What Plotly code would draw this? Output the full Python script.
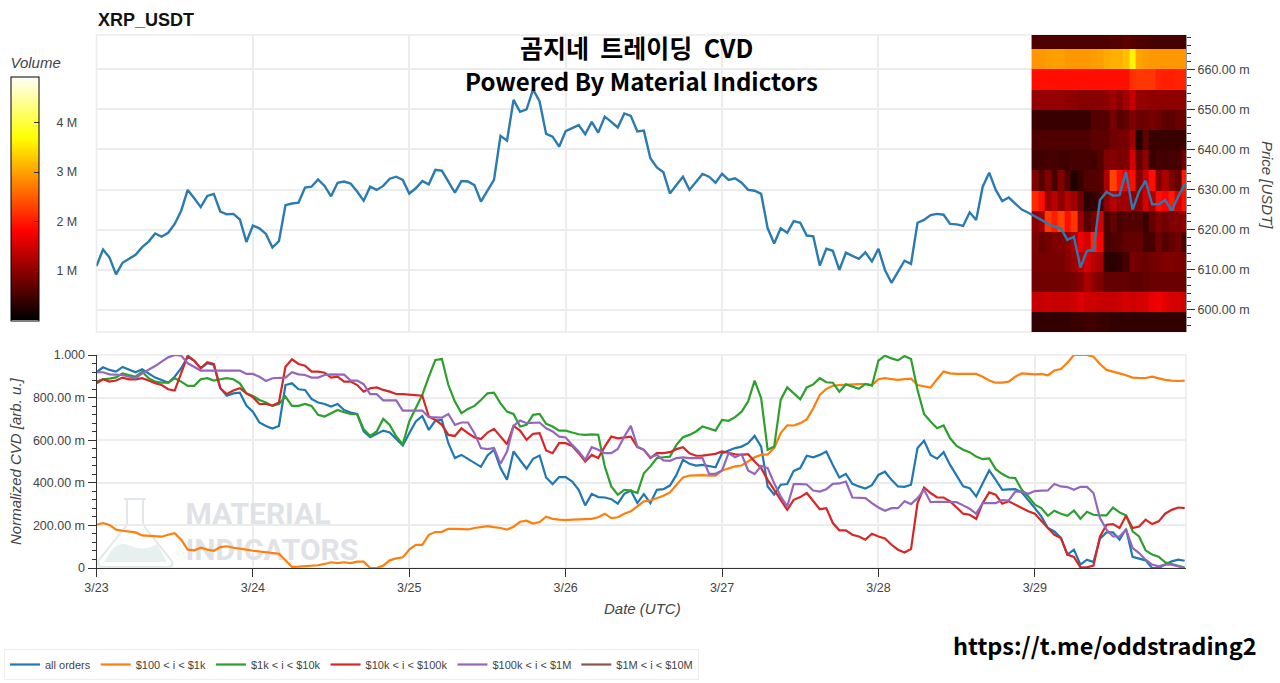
import pandas as pd
import plotly.graph_objects as go

W, H = 1280, 683

# hourly samples
hours = pd.date_range("2023-03-23", periods=168, freq="h")
tick_dates = ["2023-03-23", "2023-03-24", "2023-03-25", "2023-03-26", "2023-03-27", "2023-03-28", "2023-03-29"]
tick_labels = ["3/23", "3/24", "3/25", "3/26", "3/27", "3/28", "3/29"]

# price in milli USDT
price = [
    610.9, 615.0, 613.0, 608.8, 611.7, 612.8, 613.7, 615.6, 617.0, 619.0, 618.2, 619.2, 621.4, 624.7, 629.9, 627.8,
    625.6, 628.4, 628.9, 624.5, 623.8, 623.9, 622.5, 616.9, 621.0, 620.3, 618.9, 615.5, 617.1, 626.1, 626.5, 626.7,
    630.5, 630.7, 632.5, 630.9, 628.3, 631.7, 632.0, 631.5, 629.5, 627.2, 630.7, 629.9, 630.9, 632.7, 633.2, 632.4,
    629.0, 630.3,
    632.1, 631.3, 634.9, 634.7, 632.0, 629.2, 632.1, 632.0, 631.1, 627.0, 629.7, 632.4, 643.4, 642.2, 652.4, 649.4,
    650.0, 655.0, 652.0, 643.9, 643.2, 640.7, 644.6, 645.3, 646.1, 643.8, 646.9, 644.2, 648.2, 646.9, 645.5, 649.0,
    648.4, 644.5, 644.7, 637.8, 635.5, 634.3, 629.0, 631.1, 633.2, 629.9, 632.0, 633.9, 633.2, 631.7, 633.9, 632.4,
    632.8, 631.7, 629.9, 629.7, 628.9, 620.3, 616.5, 620.3, 619.2, 622.1, 621.7, 618.5, 618.3, 611.0, 615.2, 614.7,
    609.9, 614.2, 613.4, 612.7, 614.3, 612.0, 615.2, 609.9, 606.7, 609.3, 612.2, 611.4, 621.7, 622.4, 623.6, 623.9,
    623.7, 621.4, 621.3, 620.9, 624.3, 622.4, 630.7, 634.2, 629.9, 627.1, 628.0, 626.5, 625.0, 624.2, 623.2, 622.4,
    621.5, 620.7, 620.3, 617.4, 618.2, 610.5, 614.7, 614.9, 627.4, 629.4, 628.5, 628.6, 634.4, 624.9, 629.5, 632.2,
    626.3, 626.3, 627.4, 624.7, 628.2, 631.4,
]

all_orders = [
    .919, .942, .930, .922, .944, .930, .919, .933, .914, .894, .883, .870, .898, .938, .992, .973,
    .938, .961, .953, .844, .809, .820, .823, .763, .734, .683, .667, .655, .667, .859, .867, .839,
    .836, .794, .777, .770, .758, .770, .742, .730, .723, .641, .614, .628, .645, .636, .605, .575,
    .633, .688,
    .714, .648, .692, .695, .586, .516, .531, .511, .492, .475, .528, .555, .469, .414, .547, .508,
    .466, .513, .528, .425, .394, .427, .427, .406, .367, .294, .348, .333, .331, .323, .302, .348,
    .364, .305, .347, .305, .367, .370, .387, .437, .508, .489, .481, .484, .480, .473, .539, .552,
    .563, .570, .586, .620, .570, .383, .344, .391, .394, .456, .469, .527, .520, .531,
    .547, .484, .425, .442, .395, .383, .373, .389, .437, .452, .414, .383, .381, .391, .563, .597,
    .531, .513, .544, .484, .430, .383, .375, .336, .398, .458, .414, .367, .369, .370, .355, .320,
    .281, .242, .188, .172, .141, .063, .086, .016, .039, .028, .138, .167, .167, .133, .183, .052,
    .044, .036, 0, 0, .016, .031, .039, .034,
]
orders_100_1k = [
    .203, .211, .202, .180, .175, .170, .167, .153, .152, .148, .147, .156, .163, .133, .086, .083,
    .095, .086, .081, .098, .102, .095, .089, .086, .081, .078, .075, .070, .067, .036, .005, .006,
    .008, .011, .013, .019, .027, .023, .027, .023, .030, .030, 0, 0, .011, .036, .045, .050,
    .086, .109,
    .109, .156, .169, .170, .184, .184, .183, .181, .188, .192, .197, .192, .188, .180, .194, .217,
    .222, .209, .216, .241, .231, .227, .225, .227, .228, .230, .231, .238, .255, .234, .238, .255,
    .266, .289, .313, .317, .328, .339, .355, .391, .425, .434, .436, .436, .434, .434, .458, .469,
    .477, .481, .500, .520, .531, .533, .563, .633, .670, .669, .680, .698, .750, .813,
    .841, .855, .859, .861, .863, .863, .863, .859, .886, .891, .887, .883, .887, .889, .859, .852,
    .847, .886, .922, .914, .911, .912, .911, .911, .898, .880, .870, .870, .875, .898, .914, .912,
    .909, .911, .905, .927, .934, .964, 1.0, 1.0, 1.0, .992, .958, .930, .923, .914, .905, .894,
    .892, .892, .898, .891, .883, .880, .878, .880,
]
orders_1k_10k = [
    .875, .886, .889, .895, .914, .906, .898, .922, .891, .875, .870, .870, .891, .875, .855, .855,
    .886, .891, .880, .886, .891, .886, .867, .820, .808, .789, .777, .761, .770, .805, .761, .761,
    .770, .761, .719, .711, .727, .742, .731, .723, .723, .652, .620, .641, .700, .672, .617, .581,
    .688, .750,
    .813, .898, .977, .981, .859, .781, .727, .747, .761, .789, .820, .823, .773, .734, .723, .664,
    .672, .719, .723, .677, .664, .645, .645, .636, .628, .625, .627, .625, .477, .383, .344, .367,
    .364, .352, .445, .477, .516, .520, .523, .578, .614, .625, .641, .664, .656, .645, .695, .691,
    .708, .734, .781, .880, .797, .555, .570, .789, .848, .820, .792, .848, .862, .891,
    .872, .870, .828, .862, .852, .841, .864, .856, .973, .997, .984, .975, .995, .981, .836, .723,
    .688, .656, .669, .609, .573, .555, .544, .523, .511, .514, .464, .441, .425, .422, .367, .336,
    .297, .281, .245, .269, .255, .245, .270, .231, .264, .250, .247, .247, .284, .261, .247, .172,
    .148, .083, .063, .053, .027, .019, .011, .002,
]
orders_10k_100k = [
    .867, .886, .875, .880, .894, .886, .886, .891, .880, .867, .859, .839, .833, .914, .997, .973,
    .938, .966, .958, .844, .817, .833, .844, .820, .802, .770, .770, .763, .777, .945, .980, .958,
    .950, .922, .922, .917, .894, .898, .875, .875, .859, .828, .844, .848, .836, .828, .817, .816,
    .813, .811,
    .809, .711, .695, .672, .625, .620, .656, .633, .613, .605, .636, .653, .617, .581, .667, .645,
    .602, .630, .633, .552, .539, .586, .586, .573, .539, .500, .531, .516, .570, .617, .609, .613,
    .617, .567, .555, .516, .539, .539, .544, .558, .567, .539, .527, .528, .531, .536, .547, .539,
    .534, .531, .534, .500, .469, .414, .367, .320, .273, .320, .333, .352, .313, .276,
    .281, .211, .177, .177, .156, .148, .133, .161, .148, .139, .109, .086, .073, .089, .305, .378,
    .352, .331, .331, .313, .284, .255, .250, .231, .305, .355, .344, .302, .313, .297, .281, .266,
    .255, .219, .188, .156, .141, .063, .052, .003, .003, .011, .148, .203, .206, .188, .245, .188,
    .195, .227, .206, .219, .255, .273, .284, .281,
]
orders_100k_1m = [
    .919, .919, .909, .906, .906, .898, .891, .914, .930, .948, .969, .989, 1.0, .997, .961, .942,
    .927, .927, .927, .927, .927, .927, .927, .911, .911, .898, .878, .891, .891, .894, .919, .909,
    .906, .894, .894, .906, .909, .908, .908, .880, .880, .863, .816, .816, .787, .787, .787, .739,
    .739, .738,
    .739, .708, .706, .706, .723, .672, .683, .683, .633, .563, .558, .563, .489, .547, .667, .692,
    .680, .683, .683, .656, .641, .617, .613, .578, .547, .508, .567, .555, .539, .539, .559, .617,
    .667, .570, .555, .520, .531, .505, .503, .516, .519, .516, .516, .516, .442, .442, .458, .539,
    .520, .534, .458, .441, .480, .469, .398, .336, .289, .394, .394, .392, .364, .359,
    .370, .395, .397, .406, .331, .331, .328, .305, .284, .269, .281, .281, .313, .300, .328, .367,
    .309, .311, .311, .309, .309, .294, .278, .255, .305, .305, .305, .319, .317, .359, .359, .348,
    .361, .363, .364, .394, .383, .380, .367, .381, .381, .352, .234, .180, .148, .148, .180, .094,
    .070, .039, .016, .008, .016, .016, .008, 0,
]
# this one only shows in the legend, the line sits on the axis at the very end
orders_1m_10m = [None] * 167 + [0]

series_names = ["all orders", "$100 < i < $1k", "$1k < i < $10k", "$10k < i < $100k", "$100k < i < $1M", "$1M < i < $10M"]
series_values = [all_orders, orders_100_1k, orders_1k_10k, orders_10k_100k, orders_100k_1m, orders_1m_10m]
series_colors = ["#1f77b4", "#ff7f0e", "#2ca02c", "#d62728", "#9467bd", "#8c564b"]

# order book volume (millions), one column per hour for the last day
price_edges = [594.4, 599.5, 604.5, 609.5, 614.5, 619.5, 624.6, 629.7, 634.8, 639.9, 644.9, 649.9, 654.9, 660.0, 665.1, 668.6]
volume = [
    [.35, .35, .35, .35, .35, .35, .4, .4, .45, .45, .4, .4, .35, .35, .35, .35, .35, .35, .35, .35, .35, .35, .35, .35],
    [1.4, 1.4, 1.45, 1.4, 1.4, 1.4, 1.45, 1.55, 1.45, 1.45, 1.4, 1.4, 1.4, 1.45, 1.5, 1.45, 1.5, 1.5, 1.65, 1.7, 1.6, 1.5, 1.5, 1.45],
    [.8, .8, .8, .8, .8, .8, .85, .95, 1.2, 1.0, .9, .7, .7, .7, .7, .65, .65, .7, .75, .75, .75, .75, .75, .75],
    [.85, .85, .85, .85, .85, .95, 1.1, 1.3, 1.5, 1.3, 1.2, .3, .3, .35, .5, .85, .8, .75, .8, .85, .9, .9, .85, .85],
    [.9, .7, .8, .9, .9, 1.0, 1.2, 1.7, 1.5, 2.1, 1.8, .5, .55, .6, .7, .7, .7, .5, .5, .8, .6, .7, .8, .5],
    [1.0, 1.1, 2.2, 2.0, 2.3, 1.9, 2.2, 1.1, .6, .8, 1.5, .5, .7, .5, .6, .6, .6, .4, .7, .9, .8, .9, .9, 1.0],
    [2.1, 1.9, 1.1, 1.3, 1.0, 1.3, 1.1, .8, .3, .35, .5, 1.0, 1.3, 1.1, 1.1, 1.0, 1.0, 1.5, 1.2, 1.9, 1.8, 2.0, 1.5, 1.9],
    [.9, .6, .9, .5, .9, .55, .25, .4, .6, .6, .6, 1.2, 2.3, 1.9, 1.7, 1.9, .9, 1.4, 1.9, .9, 1.2, .9, .7, 2.0],
    [.45, .45, .5, .5, .45, .45, .5, .5, .5, .45, .6, .9, .95, .85, .9, 1.5, .7, 1.05, .4, .5, .45, .5, .5, .8],
    [.55, .55, .55, .55, .55, .55, .55, .55, .55, .65, .65, .65, .8, .85, .85, 1.1, .25, .7, .4, .4, .4, .4, .4, .4],
    [.4, .4, .4, .4, .4, .4, .4, .4, .4, .6, .6, .6, .85, .6, .7, .9, .75, .75, .85, .75, .65, .65, .75, .75],
    [1.05, 1.05, 1.05, 1.05, 1.05, 1.0, 1.0, .95, .95, .95, .95, 1.0, 1.1, .95, 1.15, 1.4, 1.05, 1.05, 1.0, 1.0, 1.0, 1.0, 1.0, 1.0],
    [1.9, 1.9, 1.9, 1.9, 1.9, 1.9, 1.9, 1.9, 1.9, 1.9, 1.9, 1.9, 1.9, 1.9, 1.9, 2.15, 2.2, 2.2, 2.2, 2.05, 2.02, 2.02, 2.05, 2.05],
    [2.9, 2.9, 2.95, 2.98, 2.98, 2.92, 2.92, 2.92, 2.92, 2.95, 2.98, 3.05, 3.1, 3.1, 3.2, 3.6, 3.0, 2.95, 2.92, 2.92, 2.92, 2.92, 2.92, 2.92],
    [.55, .55, .55, .55, .55, .55, .55, .55, .55, .55, .55, .55, .6, .6, .65, .6, .55, .55, .5, .5, .5, .5, .5, .5],
]

hot = [[0, "rgb(0,0,0)"], [.365, "rgb(255,0,0)"], [.746, "rgb(255,255,0)"], [1, "rgb(255,255,255)"]]

GREY = "#444444"
GRID = "#ececec"
SANS = "Liberation Sans"
CJK = "Noto Sans CJK KR"
NB = "\u00a0"


# pixel position on the page -> paper coords
def px(x):
    return x / W


def py(y):
    return 1 - y / H


fig = go.Figure()

# watermark goes first so the lines stay on top of it
fig.add_trace(go.Scatter(
    x=[pd.Timestamp("2023-03-23 13:40"), pd.Timestamp("2023-03-23 13:40")], y=[.24, .072],
    mode="text", text=["MATERIAL", "INDICATORS"], textposition="middle right",
    textfont=dict(family="Roboto", size=30, color="#dfe2e6", weight="bold"),
    showlegend=False, hoverinfo="skip",
))

for name, vals, color in zip(series_names, series_values, series_colors):
    fig.add_trace(go.Scatter(x=hours, y=vals, mode="lines", name=name, line=dict(color=color, width=2.2)))

fig.add_trace(go.Heatmap(
    x=hours[144:], y=price_edges, z=volume, xaxis="x2", yaxis="y2",
    colorscale=hot, zmin=0, zmax=4.93, showlegend=False,
    colorbar=dict(
        x=px(11), xanchor="left", xpad=0, y=py(320.5), yanchor="bottom", ypad=0,
        len=266 / H, thickness=28, outlinecolor="black", outlinewidth=1,
        tickmode="array", tickvals=[1, 2, 3, 4],
        ticktext=[NB * 4 + "1 M", NB * 4 + "2 M", NB * 4 + "3 M", NB * 4 + "4 M"],
        ticks="inside", ticklen=5, tickcolor="#333333", tickfont=dict(family=SANS, size=12.5, color=GREY),
        title=dict(text="Volume", side="top", font=dict(family=SANS, size=15, color=GREY, style="italic")),
    ),
))
fig.add_trace(go.Scatter(x=hours, y=price, xaxis="x2", yaxis="y2", mode="lines",
                         line=dict(color="#2b7bb0", width=2.4), showlegend=False))

x_range = ["2023-03-23 00:00", "2023-03-29 23:12"]

fig.update_layout(
    width=W, height=H, margin=dict(l=0, r=0, t=0, b=0, autoexpand=False),
    paper_bgcolor="white", plot_bgcolor="white",
    font=dict(family=SANS, size=12.5, color=GREY),
    xaxis=dict(
        domain=[px(96.5), px(1186)], anchor="y", range=x_range,
        tickmode="array", tickvals=tick_dates, ticktext=tick_labels,
        ticks="outside", ticklen=8, tickcolor="#333333", showline=True, linecolor="#333333",
        gridcolor=GRID, gridwidth=1.5, zeroline=False,
    ),
    yaxis=dict(
        domain=[py(568), py(355)], anchor="x", range=[0, 1],
        tickmode="array", tickvals=[0, .2, .4, .6, .8, 1],
        ticktext=["0", "200.00 m", "400.00 m", "600.00 m", "800.00 m", "1.000"],
        ticks="outside", ticklen=8, tickcolor="#333333", showline=True, linecolor="#333333",
        minor=dict(tickmode="linear", tick0=0, dtick=.04, ticks="outside", ticklen=4, tickcolor="#333333", showgrid=False),
        gridcolor=GRID, gridwidth=1.5, zeroline=False,
    ),
    xaxis2=dict(
        domain=[px(96.5), px(1186)], anchor="y2", range=x_range, matches="x",
        tickmode="array", tickvals=tick_dates, showticklabels=False, ticks="",
        gridcolor=GRID, gridwidth=1.5, zeroline=False,
    ),
    yaxis2=dict(
        domain=[py(332), py(35)], anchor="x2", side="right", range=[594.4, 668.6],
        tick0=600, dtick=10, tickformat=".2f", ticksuffix=" m",
        ticks="outside", ticklen=8, tickcolor="#333333", showline=True, linecolor="#999999",
        minor=dict(tick0=600, dtick=2, ticks="outside", ticklen=4, tickcolor="#333333", showgrid=False),
        gridcolor=GRID, gridwidth=1.5, zeroline=False,
    ),
    legend=dict(
        orientation="h", x=px(4), xanchor="left", y=py(649), yanchor="top",
        bgcolor="white", bordercolor="#eeeeee", borderwidth=1,
        font=dict(family=SANS, size=11, color=GREY), itemwidth=30, tracegroupgap=0,
    ),
    shapes=[
        # light frames around both panels
        dict(type="rect", xref="paper", yref="paper", x0=px(96.5), x1=px(1186), y0=py(332), y1=py(35),
             line=dict(color=GRID, width=1.5), layer="below"),
        dict(type="rect", xref="paper", yref="paper", x0=px(96.5), x1=px(1186), y0=py(568), y1=py(355),
             line=dict(color=GRID, width=1.5), layer="below"),
        # flask of the watermark
        dict(type="path", xref="paper", yref="paper", layer="below", line=dict(color="#e4e7e9", width=2),
             path=f"M {px(124)},{py(499)} L {px(146)},{py(499)} M {px(127)},{py(499)} L {px(127)},{py(525)} "
                  f"L {px(99)},{py(560)} Q {px(96)},{py(567)} {px(104)},{py(567)} L {px(167)},{py(567)} "
                  f"Q {px(175)},{py(567)} {px(171)},{py(560)} L {px(143)},{py(525)} L {px(143)},{py(499)}"),
        dict(type="path", xref="paper", yref="paper", layer="below", fillcolor="#e6f0ef", line=dict(width=0),
             path=f"M {px(111)},{py(551)} Q {px(119)},{py(540)} {px(131)},{py(546)} Q {px(143)},{py(552)} "
                  f"{px(157)},{py(544)} L {px(167)},{py(562)} L {px(104)},{py(562)} Z"),
    ],
)

labels = [
    dict(text="<b>XRP_USDT</b>", x=96, y=20, xanchor="left", font=dict(family=SANS, size=18, color="#111111")),
    dict(text=f"<b>곰지네{NB} 트레이딩{NB} CVD</b>", x=636, y=47, font=dict(family=CJK, size=25, color="black")),
    dict(text="<b>Powered By Material Indictors</b>", x=641, y=80, font=dict(family=CJK, size=24, color="black")),
    dict(text="<b>https://t.me/oddstrading2</b>", x=1105, y=645, font=dict(family=CJK, size=23.5, color="black")),
    dict(text="Date (UTC)", x=642, y=608, font=dict(family=SANS, size=15, color=GREY, style="italic")),
    dict(text="Normalized CVD [arb. u.]", x=15, y=461, textangle=-90, font=dict(family=SANS, size=15, color=GREY, style="italic")),
    dict(text="Price [USDT]", x=1267, y=185, textangle=90, font=dict(family=SANS, size=15, color=GREY, style="italic")),
]
for lab in labels:
    lab = dict(lab)
    lab["x"] = px(lab["x"])
    lab["y"] = py(lab["y"])
    lab.setdefault("xanchor", "center")
    fig.add_annotation(xref="paper", yref="paper", yanchor="middle", showarrow=False, **lab)

fig.write_html("out.html", config=dict(displayModeBar=False), post_script="document.body.style.margin='0';")
